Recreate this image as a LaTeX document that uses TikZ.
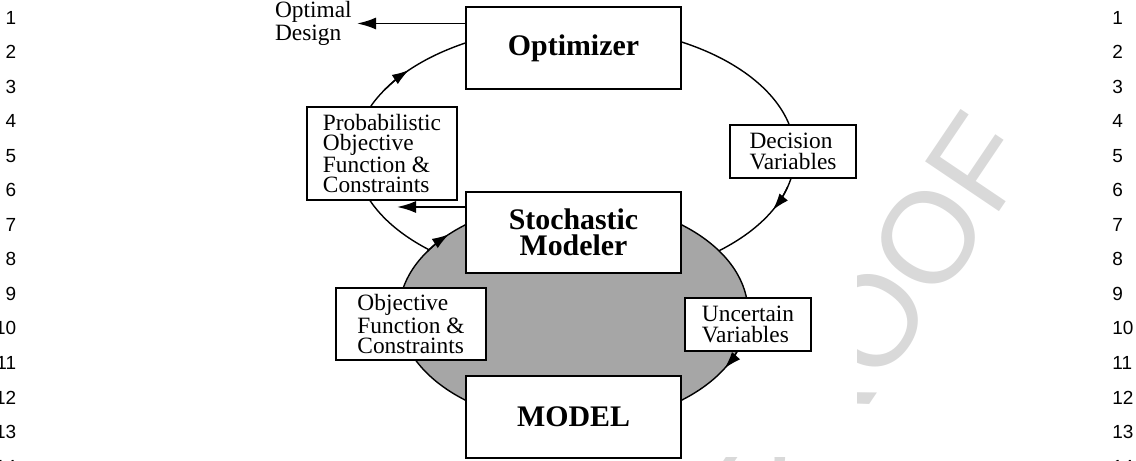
\documentclass[tikz,border=0pt]{standalone}
\usepackage{fontspec}
\setmainfont{Liberation Serif}
\newfontfamily\numfont{Liberation Sans}
\usetikzlibrary{arrows.meta}

\tikzset{
  box/.style={draw,line width=1.1pt,fill=white,inner sep=0pt},
  lbl/.style={font=\fontsize{13.3}{11.5}\selectfont,align=left},
  ttl/.style={font=\fontsize{17}{14.7}\selectfont\bfseries,align=center},
  loopline/.style={line width=0.8pt},
  looptip/.style={-{Latex[length=0.34cm,width=0.22cm]}},
  outarrow/.style={line width=1.1pt,-{Latex[length=0.38cm,width=0.24cm]}},
  lineno/.style={font=\numfont\fontsize{10.8}{13}\selectfont,inner sep=0pt},
}

\begin{document}
\begin{tikzpicture}
[]
\useasboundingbox (0,0) rectangle (22.72,-9.22);

% proof watermark, mostly hidden under the figure
\node[rotate=56,text=black!15,font=\numfont\fontsize{73.7}{80}\selectfont] (wmark) at (17.44,-6.42) {PROOF};
\fill[white] (4.6,0) rectangle (17.13,-9.15);

% line numbers
\foreach \n in {1,...,14}{
  \node[lineno,anchor=east] (lnl\n) at (0.33,{-0.35-0.691*(\n-1)}) {\n};
  \node[lineno,anchor=west] (lnr\n) at (22.24,{-0.35-0.691*(\n-1)}) {\n};
}

% the two loops
\coordinate (upc) at (11.5,-3.08);
\coordinate (lowc) at (11.47,-6.25);
\draw[loopline] (upc) ellipse [x radius=4.4,y radius=2.56];
\draw[loopline,fill=black!35] (lowc) ellipse [x radius=3.49,y radius=2.234];
\draw[loopline,looptip] (upc) ++(150:4.4 and 2.56) arc[start angle=150,end angle=139,x radius=4.4,y radius=2.56];
\draw[loopline,looptip] (upc) ++(-15:4.4 and 2.56) arc[start angle=-15,end angle=-26,x radius=4.4,y radius=2.56];
\draw[loopline,looptip] (lowc) ++(147:3.49 and 2.234) arc[start angle=147,end angle=135.5,x radius=3.49,y radius=2.234];
\draw[loopline,looptip] (lowc) ++(-18:3.49 and 2.234) arc[start angle=-18,end angle=-30,x radius=3.49,y radius=2.234];

\node[box,ttl,minimum width=4.3cm,minimum height=1.64cm] (opt) at (11.47,-0.96) {Optimizer};
\node[box,ttl,minimum width=4.3cm,minimum height=1.62cm] (stoch) at (11.47,-4.65) {Stochastic\\Modeler};
\node[box,ttl,minimum width=4.3cm,minimum height=1.64cm] (model) at (11.47,-8.34) {MODEL};

\node[box,lbl,minimum width=3cm,minimum height=1.86cm] (prob) at (7.64,-3.07) {Probabilistic\\Objective\\Function \&\\Constraints};
\node[box,lbl,minimum width=2.52cm,minimum height=1.06cm] (dec) at (15.86,-3.03) {Decision\\Variables};
\node[box,lbl,minimum width=3cm,minimum height=1.44cm] (obj) at (8.22,-6.48) {Objective\\Function \&\\Constraints};
\node[box,lbl,minimum width=2.52cm,minimum height=1.06cm] (unc) at (14.96,-6.49) {Uncertain\\Variables};

\node[lbl,anchor=east,inner sep=0.1cm] (optdes) at (7.14,-0.47) {Optimal\\Design};
\coordinate (probtip) at (7.94,-4.14);

\draw[outarrow] (opt.west |- optdes.east) -- (optdes.east);
\draw[outarrow] (stoch.west |- probtip) -- (probtip);

\end{tikzpicture}
\end{document}
